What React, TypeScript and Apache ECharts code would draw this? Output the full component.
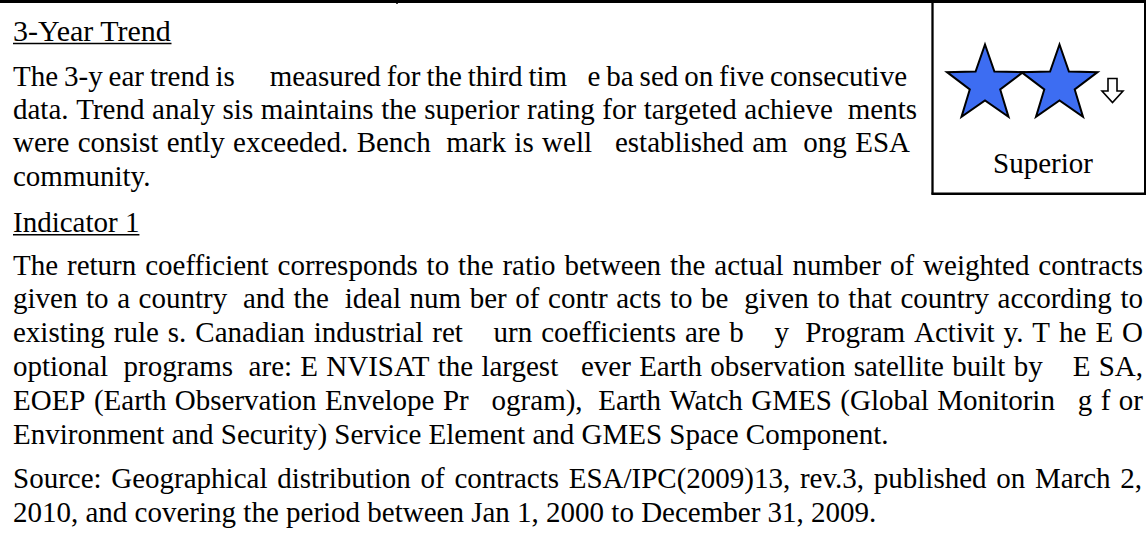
import React, { useEffect, useRef } from "react";
import * as echarts from "echarts";

// ---- content ----
const trendTitle = "3-Year Trend";
const trendLines = [
  "The 3-y ear trend is     measured for the third tim   e ba sed on five consecutive",
  "data. Trend analy sis maintains the superior rating for targeted achieve  ments",
  "were consist ently exceeded. Bench  mark is well   established am  ong ESA",
  "community.",
];
const indicatorTitle = "Indicator 1";
const indicatorLines = [
  "The return coefficient corresponds to the ratio between the actual number of weighted contracts",
  "given to a country  and the  ideal num ber of contr acts to be  given to that country according to",
  "existing rule s. Canadian industrial ret    urn coefficients are b    y  Program Activit y. T he E O",
  "optional  programs  are: E NVISAT the largest   ever Earth observation satellite built by    E SA,",
  "EOEP (Earth Observation Envelope Pr   ogram),  Earth Watch GMES (Global Monitorin   g f or",
  "Environment and Security) Service Element and GMES Space Component.",
];
const sourceLines = [
  "Source: Geographical distribution of contracts ESA/IPC(2009)13, rev.3, published on March 2,",
  "2010, and covering the period between Jan 1, 2000 to December 31, 2009.",
];
const ratingLabel = "Superior";
const starCount = 2;

// ---- layout ----
const W = 1146;
const H = 539;
const FONT_SIZE = 29;
const FONT_FAMILY = '"Liberation Serif", "Times New Roman", serif';
const FONT = `${FONT_SIZE}px ${FONT_FAMILY}`;
const LEFT = 13;
const MID_OFFSET = 9.8; // baseline -> central
const trendTitleBase = 41;
const trendTitleWidth = 158.5;
const trendBases = [86, 119, 152, 186];
const trendRight = [907, 917, 910, null];
const indTitleBase = 232;
const indBases = [275, 308, 342, 376, 410, 444];
const indRight = [1143, 1143, 1143, 1143, 1143, null];
const srcBases = [488, 522];
const srcRight = [1142, null];

let ctx: CanvasRenderingContext2D | null = null;
function measure(t: string): number {
  if (!ctx) {
    const c = document.createElement("canvas");
    ctx = c.getContext("2d");
  }
  ctx!.font = FONT;
  return ctx!.measureText(t).width;
}

function textEl(text: string, x: number, base: number, align = "left", scaleX = 1) {
  return {
    type: "text",
    x,
    y: base - MID_OFFSET,
    scaleX,
    silent: true,
    style: {
      text,
      font: FONT,
      fill: "#000",
      textAlign: align,
      verticalAlign: "middle",
      textVerticalAlign: "middle",
    },
  };
}

function lineEls(line: string, base: number, right: number | null) {
  if (right == null) return [textEl(line, LEFT, base)];
  const parts = line.split(/( +)/);
  const words: string[] = [];
  const gaps: number[] = [];
  parts.forEach((p) => {
    if (p.length === 0) return;
    if (p.startsWith(" ")) gaps.push(p.length);
    else words.push(p);
  });
  const spaceW = measure(" ");
  const wordsW = words.reduce((s, w) => s + measure(w), 0);
  const baseGapW = gaps.reduce((s, g) => s + g * spaceW, 0);
  const extra = gaps.length ? (right - LEFT - wordsW - baseGapW) / gaps.length : 0;
  const els: any[] = [];
  let x = LEFT;
  words.forEach((w, i) => {
    els.push(textEl(w, x, base));
    x += measure(w);
    if (i < gaps.length) x += gaps[i] * spaceW + extra;
  });
  return els;
}

function starPoints(cx: number, cy: number, R: number, r: number) {
  const pts: number[][] = [];
  for (let i = 0; i < 10; i++) {
    const rad = i % 2 === 0 ? R : r;
    const a = -Math.PI / 2 + (i * Math.PI) / 5;
    pts.push([cx + rad * Math.cos(a), cy + rad * Math.sin(a)]);
  }
  return pts;
}

export default function App() {
  const ref = useRef<HTMLDivElement>(null);
  useEffect(() => {
    document.body.style.margin = "0";
    const chart = echarts.init(ref.current!, null, { renderer: "svg" });
    const els: any[] = [];

    // frame lines
    els.push({ type: "line", shape: { x1: 0, y1: 1.5, x2: W, y2: 1.5 }, style: { stroke: "#000", lineWidth: 3 } });
    els.push({ type: "line", shape: { x1: 397, y1: 0, x2: 397, y2: 4 }, style: { stroke: "#000", lineWidth: 1.5 } });
    els.push({ type: "line", shape: { x1: 932.5, y1: 0, x2: 932.5, y2: 194.5 }, style: { stroke: "#000", lineWidth: 2.3 } });
    els.push({ type: "line", shape: { x1: 931.5, y1: 193.7, x2: W, y2: 193.7 }, style: { stroke: "#000", lineWidth: 2.5 } });
    els.push({ type: "line", shape: { x1: 1145, y1: 0, x2: 1145, y2: 194.5 }, style: { stroke: "#000", lineWidth: 2 } });

    // titles with underline
    const tw = measure(trendTitle);
    const tScale = trendTitleWidth / tw;
    els.push(textEl(trendTitle, LEFT, trendTitleBase, "left", tScale));
    els.push({
      type: "line",
      shape: { x1: LEFT, y1: trendTitleBase + 2.5, x2: LEFT + trendTitleWidth, y2: trendTitleBase + 2.5 },
      style: { stroke: "#000", lineWidth: 1.6 },
    });
    els.push(textEl(indicatorTitle, LEFT, indTitleBase));
    els.push({
      type: "line",
      shape: { x1: LEFT, y1: indTitleBase + 2.8, x2: LEFT + measure(indicatorTitle), y2: indTitleBase + 2.8 },
      style: { stroke: "#000", lineWidth: 1.6 },
    });

    trendLines.forEach((l, i) => els.push(...lineEls(l, trendBases[i], trendRight[i])));
    indicatorLines.forEach((l, i) => els.push(...lineEls(l, indBases[i], indRight[i])));
    sourceLines.forEach((l, i) => els.push(...lineEls(l, srcBases[i], srcRight[i])));

    // rating stars
    for (let i = 0; i < starCount; i++) {
      els.push({
        type: "polygon",
        shape: { points: starPoints(985 + i * 74.5, 84.5, 40, 16) },
        style: { fill: "#3D6DF2", stroke: "#000", lineWidth: 2, lineJoin: "miter" },
      });
    }
    // hollow down arrow
    els.push({
      type: "polygon",
      shape: {
        points: [
          [1108, 78.5],
          [1117, 78.5],
          [1117, 91],
          [1123, 91],
          [1112.5, 102.5],
          [1102, 91],
          [1108, 91],
        ],
      },
      style: { fill: "#fff", stroke: "#000", lineWidth: 1.6 },
    });
    els.push(textEl(ratingLabel, 1043, 173, "center"));

    chart.setOption({
      animation: false,
      backgroundColor: "#fff",
      graphic: { elements: els },
    });
    return () => chart.dispose();
  }, []);
  return <div ref={ref} style={{ width: W, height: H }} />;
}
